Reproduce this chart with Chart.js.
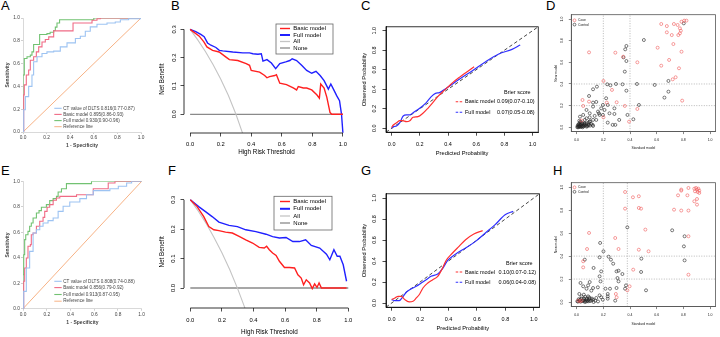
<!DOCTYPE html>
<html>
<head>
<meta charset="utf-8">
<script src="https://cdn.jsdelivr.net/npm/chart.js@4.4.0/dist/chart.umd.min.js"></script>
<style>
  html, body { margin: 0; padding: 0; background: #fff; }
  #fig { position: relative; width: 720px; height: 337px; overflow: hidden; background: #fff;
         font-family: "Liberation Sans", Arial, sans-serif; }
  #fig canvas { position: absolute; }
  .lab { position: absolute; font-size: 13px; line-height: 13px; color: #000; }
</style>
</head>
<body>
<div id="fig">
  <div class="lab" style="left:1px;top:-1px">A</div>
  <div class="lab" style="left:171px;top:-1px">B</div>
  <div class="lab" style="left:361px;top:-1px">C</div>
  <div class="lab" style="left:546px;top:-1px">D</div>
  <div class="lab" style="left:1px;top:164px">E</div>
  <div class="lab" style="left:168px;top:164px">F</div>
  <div class="lab" style="left:361px;top:164px">G</div>
  <div class="lab" style="left:553px;top:164px">H</div>
  <canvas id="pa"></canvas><canvas id="pb"></canvas><canvas id="pc"></canvas><canvas id="pd"></canvas>
  <canvas id="pe"></canvas><canvas id="pf"></canvas><canvas id="pg"></canvas><canvas id="ph"></canvas>
</div>
<script>
/* ---- tick values ---- */
const unitTicks = [0, 0.2, 0.4, 0.6, 0.8, 1.0];
const nbTicks = [0, 0.1, 0.2, 0.3];

/* ---- ROC curves (1 - specificity, sensitivity) ---- */
const rocLabels = ['CT value of DLTS', 'Basic model', 'Full model', 'Reference line'];
const aucA = ['0.816(0.77-0.87)', '0.895(0.86-0.93)', '0.930(0.90-0.96)', ''];
const aucE = ['0.808(0.74-0.88)', '0.856(0.79-0.92)', '0.913(0.87-0.95)', ''];
const refLine = [[0, 0], [1, 1]];

const rocA_ct = [[0,0],[0.006,0.195],[0.02,0.31],[0.048,0.4],[0.076,0.5],[0.09,0.616],[0.119,0.66],[0.161,0.689],
  [0.203,0.703],[0.26,0.709],[0.316,0.747],[0.373,0.782],[0.444,0.82],[0.486,0.84],[0.528,0.884],[0.57,0.922],
  [0.627,0.945],[0.712,0.956],[0.782,0.965],[0.825,0.985],[0.895,0.994],[1,1]];
const rocA_basic = [[0,0],[0.006,0.326],[0.011,0.413],[0.028,0.5],[0.048,0.544],[0.062,0.63],[0.09,0.66],[0.113,0.703],
  [0.133,0.747],[0.161,0.79],[0.189,0.811],[0.218,0.834],[0.246,0.834],[0.26,0.887],[0.387,0.887],[0.424,0.956],
  [0.556,0.956],[0.585,0.98],[0.627,0.994],[0.655,1],[1,1]];
const rocA_full = [[0,0],[0,0.5],[0.011,0.645],[0.034,0.66],[0.062,0.674],[0.076,0.703],[0.09,0.724],[0.09,0.767],
  [0.124,0.767],[0.141,0.855],[0.203,0.863],[0.23,0.875],[0.26,0.89],[0.274,0.92],[0.288,0.956],[0.31,0.985],
  [0.57,0.985],[0.6,1],[1,1]];

const rocE_ct = [[0,0],[0.006,0.136],[0.028,0.319],[0.056,0.45],[0.085,0.594],[0.113,0.62],[0.141,0.647],[0.169,0.673],
  [0.211,0.691],[0.254,0.712],[0.296,0.764],[0.338,0.804],[0.394,0.838],[0.479,0.864],[0.535,0.895],[0.592,0.927],
  [0.732,0.942],[0.803,0.961],[0.873,0.987],[0.915,1],[1,1]];
const rocE_basic = [[0,0],[0.006,0.215],[0.014,0.319],[0.028,0.398],[0.042,0.49],[0.062,0.503],[0.07,0.58],[0.085,0.594],
  [0.113,0.647],[0.141,0.686],[0.169,0.717],[0.183,0.764],[0.203,0.796],[0.225,0.817],[0.254,0.851],[0.282,0.869],
  [0.31,0.882],[0.423,0.882],[0.451,0.895],[0.535,0.895],[0.592,0.942],[0.704,0.942],[0.718,0.987],[0.775,1],[1,1]];
const rocE_full = [[0,0],[0,0.267],[0.006,0.424],[0.014,0.542],[0.023,0.58],[0.042,0.607],[0.056,0.647],[0.07,0.673],
  [0.085,0.712],[0.113,0.751],[0.135,0.77],[0.155,0.796],[0.197,0.817],[0.225,0.848],[0.254,0.864],[0.282,0.882],
  [0.296,0.916],[0.324,0.942],[0.366,0.982],[0.563,0.982],[0.577,1],[1,1]];

/* ---- decision curves (threshold, net benefit) ---- */
const dcaLabels = ['Basic model', 'Full model', 'All', 'None'];
const dcaNone = [[0, 0], [1, 0]];
const dcaB_basic = [[0,0.3],[0.06,0.276],[0.09,0.256],[0.11,0.238],[0.147,0.226],[0.19,0.22],[0.235,0.202],[0.257,0.193],
  [0.312,0.19],[0.367,0.179],[0.389,0.173],[0.4,0.155],[0.455,0.149],[0.488,0.137],[0.503,0.129],[0.52,0.133],
  [0.554,0.137],[0.565,0.14],[0.587,0.11],[0.631,0.105],[0.675,0.093],[0.697,0.086],[0.708,0.098],[0.741,0.093],
  [0.763,0.093],[0.796,0.086],[0.829,0.069],[0.846,0.057],[0.855,0.107],[0.877,0.093],[0.895,0.06],[0.916,0.006],
  [0.927,0],[1,0]];
const dcaB_full = [[0,0.3],[0.037,0.292],[0.07,0.282],[0.092,0.274],[0.114,0.252],[0.136,0.244],[0.169,0.236],[0.191,0.226],
  [0.213,0.224],[0.279,0.22],[0.345,0.217],[0.389,0.217],[0.411,0.214],[0.444,0.212],[0.466,0.214],[0.477,0.188],
  [0.503,0.193],[0.532,0.181],[0.56,0.161],[0.587,0.179],[0.626,0.185],[0.653,0.19],[0.668,0.196],[0.697,0.19],
  [0.73,0.173],[0.763,0.155],[0.796,0.145],[0.824,0.152],[0.851,0.137],[0.877,0.119],[0.905,0.089],[0.921,0.107],
  [0.938,0.089],[0.96,0.065],[0.978,0.048],[0.991,0],[1,-0.065]];
const dcaB_all = [[0,0.3],[0.05,0.263],[0.1,0.222],[0.15,0.176],[0.2,0.125],[0.25,0.067],[0.3,0],[0.35,-0.077]];

const dcaF_basic = [[0,0.3],[0.043,0.277],[0.085,0.243],[0.117,0.209],[0.149,0.198],[0.181,0.195],[0.223,0.19],[0.266,0.187],
  [0.309,0.176],[0.351,0.164],[0.394,0.153],[0.436,0.138],[0.468,0.136],[0.483,0.142],[0.5,0.13],[0.521,0.119],
  [0.543,0.111],[0.564,0.091],[0.596,0.07],[0.628,0.07],[0.66,0.068],[0.681,0.045],[0.702,0.034],[0.717,0.011],
  [0.734,0.028],[0.755,0.017],[0.772,-0.002],[0.787,0.014],[0.802,0.002],[0.815,0.017],[0.83,0],[0.989,0]];
const dcaF_full = [[0,0.3],[0.053,0.277],[0.096,0.26],[0.138,0.243],[0.181,0.224],[0.245,0.213],[0.298,0.209],[0.351,0.198],
  [0.415,0.192],[0.479,0.183],[0.521,0.175],[0.564,0.17],[0.606,0.172],[0.649,0.158],[0.691,0.158],[0.73,0.164],
  [0.766,0.145],[0.819,0.136],[0.862,0.115],[0.883,0.096],[0.909,0.13],[0.93,0.108],[0.947,0.108],[0.968,0.079],
  [0.989,0.023]];
const dcaF_all = [[0,0.3],[0.05,0.262],[0.1,0.22],[0.15,0.172],[0.2,0.12],[0.25,0.062],[0.3,-0.003],[0.34,-0.06],[0.36,-0.09]];

/* ---- calibration curves (predicted, observed) ---- */
const calLabels = ['Basic model', 'Full model'];
const brierC = ['0.09(0.07-0.10)', '0.07(0.05-0.08)'];
const brierG = ['0.10(0.07-0.12)', '0.06(0.04-0.08)'];
const idealLine = [[-0.04, -0.04], [1.04, 1.04]];
const calC_basic = [[0,0.01],[0.012,0.034],[0.035,0.058],[0.058,0.078],[0.077,0.078],[0.105,0.068],[0.129,0.078],
  [0.152,0.113],[0.187,0.119],[0.222,0.154],[0.257,0.205],[0.292,0.263],[0.327,0.324],[0.363,0.375],[0.398,0.42],
  [0.433,0.468],[0.48,0.522],[0.526,0.57],[0.585,0.631]];
const calC_full = [[0,0],[0.012,0.017],[0.035,0.024],[0.058,0.058],[0.082,0.126],[0.105,0.137],[0.129,0.137],[0.152,0.16],
  [0.199,0.205],[0.246,0.263],[0.281,0.324],[0.311,0.358],[0.339,0.365],[0.363,0.386],[0.398,0.42],[0.48,0.502],
  [0.573,0.59],[0.667,0.683],[0.76,0.761],[0.854,0.809],[0.912,0.853]];
const calG_basic = [[0,0.032],[0.023,0.048],[0.046,0.063],[0.069,0.063],[0.092,0.032],[0.123,0.01],[0.15,0.016],
  [0.173,0.048],[0.197,0.086],[0.22,0.143],[0.254,0.19],[0.289,0.222],[0.324,0.254],[0.358,0.333],[0.382,0.403],
  [0.428,0.476],[0.474,0.54],[0.52,0.603],[0.578,0.657],[0.64,0.689]];
const calG_full = [[0,0.032],[0.023,0.022],[0.053,0.022],[0.081,0.063],[0.104,0.105],[0.139,0.137],[0.173,0.159],
  [0.208,0.19],[0.243,0.222],[0.277,0.254],[0.324,0.276],[0.358,0.327],[0.393,0.403],[0.451,0.467],[0.52,0.524],
  [0.59,0.587],[0.659,0.667],[0.728,0.746],[0.798,0.841],[0.855,0.873]];

/* ---- reclassification scatter (standard model, new model) ---- */
const nriLabels = ['Case', 'Control'];
const cutD_x = [0.2, 0.4], cutD_y = [0.2, 0.4];
const cutH_x = [0.2, 0.38], cutH_y = [0.2, 0.4];
const nriD_case = [[0.634,0.954],[0.676,0.935],[0.729,0.954],[0.757,0.945],[0.774,0.914],[0.786,0.975],[0.806,0.985],
  [0.823,0.985],[0.781,0.892],[0.774,0.868],[0.762,0.852],[0.676,0.877],[0.713,0.852],[0.725,0.769],[0.607,0.735],
  [0.786,0.698],[0.093,0.692],[0.29,0.689],[0.349,0.652],[0.455,0.6],[0.693,0.622],[0.634,0.569],[0.767,0.545],
  [0.742,0.462],[0.72,0.443],[0.201,0.428],[0.265,0.345],[0.044,0.252],[0.093,0.237],[0.226,0.228],[0.3,0.231],
  [0.049,0.197],[0.361,0.197],[0.455,0.169],[0.791,0.246],[0.201,0.092],[0.393,0.052],[0.037,0.062]];
const nriD_control = [[0.803,0.96],[0.504,0.806],[0.373,0.751],[0.364,0.72],[0.351,0.646],[0.373,0.612],[0.361,0.514],
  [0.585,0.391],[0.688,0.428],[0.688,0.329],[0.658,0.274],[0.452,0.4],[0.295,0.4],[0.344,0.397],[0.373,0.338],
  [0.229,0.397],[0.253,0.388],[0.152,0.375],[0.123,0.351],[0.093,0.289],[0.123,0.228],[0.147,0.234],[0.221,0.268],
  [0.184,0.175],[0.16,0.145],[0.172,0.114],[0.209,0.16],[0.246,0.129],[0.283,0.175],[0.319,0.068],[0.29,0.022],
  [0.233,0.043],[0.123,0.012],[0.425,0.074],[0.467,0.206],[0.074,0.16],[0.098,0.129],[0.049,0.114],[0.025,0.098],
  [0.074,0.083],[0.123,0.068],[0.098,0.052],[0.037,0.037],[0.012,0.022],[0.02,0.006],[0.005,0],[0.049,0.012],
  [0.061,0.031],[0.086,0.018],[0.03,0.052],[0.061,0.068],[0.098,0.092],[0.135,0.105],[0.167,0.129],[0.197,0.114],
  [0.02,0.015],[0.034,0.006],[0.044,0],[0.074,0.006],[0.007,0.012],[0.015,0],[0.025,0.028],[0.147,0.068],[0.27,0.022],
  [0.381,0.114],[0.197,0.206],[0.233,0.206],[0.123,0.191],[0.283,0.123],[0.01,0.005],[0.02,0.01],[0.03,0.004],
  [0.04,0.012],[0.05,0.006],[0.06,0.015],[0.07,0.02],[0.08,0.01],[0.09,0.024],[0.1,0.015],[0.03,0.02],[0.015,0.03],
  [0.045,0.035],[0.06,0.04],[0.025,0.045],[0.11,0.03],[0.12,0.022],[0.035,0.028],[0.055,0.025],[0.075,0.035],
  [0.09,0.045],[0.1,0.055],[0.02,0.06]];
const nriH_case = [[0.784,0.98],[0.784,0.971],[0.838,0.994],[0.882,0.988],[0.895,0.994],[0.902,0.98],[0.912,0.988],
  [0.919,0.971],[0.907,0.959],[0.919,0.951],[0.887,0.965],[0.83,0.93],[0.76,0.93],[0.902,0.898],[0.882,0.878],
  [0.902,0.849],[0.73,0.805],[0.784,0.797],[0.838,0.797],[0.363,0.959],[0.422,0.913],[0.466,0.922],[0.363,0.814],
  [0.466,0.82],[0.483,0.814],[0.515,0.631],[0.093,0.602],[0.289,0.558],[0.078,0.462],[0.314,0.462],[0.466,0.456],
  [0.539,0.442],[0.838,0.573],[0.049,0.355],[0.049,0.302],[0.424,0.282],[0.838,0.238],[0.397,0.137],[0.38,0.102],
  [0.294,0.07],[0.3,0.041],[0.012,0.012],[0.025,0.006],[0.037,0.012]];
const nriH_control = [[0.716,0.625],[0.809,0.573],[0.804,0.485],[0.809,0.363],[0.38,0.651],[0.176,0.515],[0.201,0.442],
  [0.172,0.39],[0.24,0.395],[0.257,0.369],[0.274,0.334],[0.061,0.369],[0.127,0.297],[0.184,0.267],[0.299,0.267],
  [0.314,0.273],[0.343,0.244],[0.485,0.378],[0.483,0.262],[0.306,0.209],[0.314,0.18],[0.172,0.224],[0.179,0.18],
  [0.029,0.166],[0.098,0.174],[0.086,0.145],[0.049,0.137],[0.074,0.116],[0.123,0.122],[0.11,0.099],[0.159,0.128],
  [0.216,0.116],[0.25,0.116],[0.299,0.122],[0.37,0.145],[0.363,0.116],[0.52,0.102],[0.233,0.07],[0.233,0.049],
  [0.233,0.029],[0.172,0.058],[0.184,0.041],[0.147,0.035],[0.123,0.02],[0.127,0],[0.098,0.029],[0.074,0.02],
  [0.049,0.012],[0.025,0.02],[0.037,0.049],[0.02,0.07],[0.054,0.064],[0.086,0.049],[0.005,0.006],[0.061,0],
  [0.086,0.006],[0.196,0.02],[0.289,0.012],[0.01,0.004],[0.02,0.01],[0.03,0.003],[0.04,0.008],[0.05,0.015],
  [0.06,0.01],[0.07,0.004],[0.08,0.012],[0.09,0.018],[0.1,0.008],[0.11,0.014],[0.015,0.025],[0.035,0.03],
  [0.055,0.028],[0.075,0.032],[0.095,0.04],[0.065,0.045],[0.115,0.03],[0.14,0.012],[0.16,0.005]];

/* ---- helpers ---- */
const FONT = '"Liberation Sans", Arial, Helvetica, sans-serif';
const pts = arr => arr.map(([x, y]) => ({ x, y }));

function scaleCfg(o) {
  return {
    type: 'linear', position: o.pos, min: o.min, max: o.max,
    afterBuildTicks: s => { s.ticks = o.ticks.map(v => ({ value: v })); },
    afterFit: s => { if (o.pos === 'bottom') s.height = o.fit; else s.width = o.fit; },
    grid: { drawOnChartArea: false, drawTicks: true, tickLength: o.tickLen, color: o.tickColor || '#000', lineWidth: 0.7 },
    border: { display: !!o.border, color: o.borderColor || '#000', width: 0.8 },
    ticks: {
      autoSkip: false, color: o.color || '#000', padding: o.tickPad,
      font: { family: FONT, size: o.fontSize, lineHeight: 1.2 },
      minRotation: o.rot || 0, maxRotation: o.rot || 0,
      crossAlign: o.rot ? 'center' : 'near',
      callback: v => v.toFixed(1)
    },
    title: {
      display: true, text: o.title, color: o.color || '#000',
      font: { family: FONT, size: o.titleSize, weight: o.bold ? 'bold' : 'normal', lineHeight: 1.2 },
      padding: { top: o.titleOff - o.titleSize * 0.6, bottom: o.titleOff - o.titleSize * 0.6 }
    }
  };
}

function line(label, data, color, width, more) {
  return Object.assign({ label, data: pts(data), showLine: true, borderColor: color, backgroundColor: color,
    borderWidth: width, pointRadius: 0, fill: false }, more || {});
}

/* box round the plot region */
const frame = {
  id: 'frame',
  afterDraw(chart, args, o) {
    if (!o.on) return;
    const { ctx, chartArea: a } = chart;
    ctx.save();
    ctx.strokeStyle = o.color; ctx.lineWidth = 0.8;
    ctx.strokeRect(a.left, a.top, a.right - a.left, a.bottom - a.top);
    ctx.restore();
  }
};

/* R style axis lines, first tick to last tick */
const rAxis = {
  id: 'rAxis',
  afterDraw(chart, args, o) {
    if (!o.on) return;
    const { ctx, chartArea: a, scales: { x, y } } = chart;
    ctx.save();
    ctx.strokeStyle = '#000'; ctx.lineWidth = 0.8;
    ctx.beginPath();
    ctx.moveTo(x.getPixelForValue(x.ticks[0].value), a.bottom);
    ctx.lineTo(x.getPixelForValue(x.ticks[x.ticks.length - 1].value), a.bottom);
    ctx.moveTo(a.left, y.getPixelForValue(y.ticks[0].value));
    ctx.lineTo(a.left, y.getPixelForValue(y.ticks[y.ticks.length - 1].value));
    ctx.stroke();
    ctx.restore();
  }
};

/* legend drawn from the datasets */
const key = {
  id: 'key',
  afterDraw(chart, args, o) {
    if (!o.ys) return;
    const ctx = chart.ctx, ox = o.origin[0], oy = o.origin[1];
    ctx.save();
    if (o.box) {
      ctx.strokeStyle = '#666'; ctx.lineWidth = 0.8;
      ctx.strokeRect(o.box[0] - ox, o.box[1] - oy, o.box[2], o.box[3]);
    }
    ctx.font = o.size + 'px ' + FONT;
    ctx.textBaseline = 'middle'; ctx.textAlign = 'left';
    ctx.fillStyle = o.textColor || '#000';
    if (o.head) ctx.fillText(o.head.text, o.head.x - ox, o.head.y - oy);
    o.ys.forEach((yy, i) => {
      const ds = chart.data.datasets[i];
      const py = yy - oy;
      ctx.strokeStyle = ds.borderColor;
      if (o.mark === 'circle') {
        ctx.lineWidth = 0.6;
        ctx.beginPath(); ctx.arc(o.markX - ox, py, 1.4, 0, Math.PI * 2); ctx.stroke();
      } else {
        ctx.lineWidth = o.lws ? o.lws[i] : ds.borderWidth;
        ctx.setLineDash(o.dash || []);
        ctx.beginPath(); ctx.moveTo(o.line[0] - ox, py); ctx.lineTo(o.line[1] - ox, py); ctx.stroke();
        ctx.setLineDash([]);
      }
      ctx.fillStyle = o.textColor || '#000';
      let txt = ds.label;
      if (o.extra && !o.valX && o.extra[i]) txt += ' ' + o.extra[i];
      ctx.fillText(txt, o.textX - ox, py);
      if (o.extra && o.valX) ctx.fillText(o.extra[i], o.valX - ox, py);
    });
    ctx.restore();
  }
};

/* rect = canvas [x, y, w, h]; area = plot [left, top, right, bottom], page pixels */
function panel(id, rect, area, xs, ys, datasets, opts) {
  const cv = document.getElementById(id);
  cv.width = rect[2]; cv.height = rect[3];
  cv.style.left = rect[0] + 'px'; cv.style.top = rect[1] + 'px';
  xs.pos = 'bottom'; xs.fit = rect[1] + rect[3] - area[3];
  ys.pos = 'left'; ys.fit = area[0] - rect[0];
  if (opts.key) opts.key.origin = [rect[0], rect[1]];
  return new Chart(cv, {
    type: 'scatter',
    data: { datasets },
    options: {
      responsive: false, animation: false, events: [],
      layout: { padding: { left: 0, bottom: 0, top: area[1] - rect[1], right: rect[0] + rect[2] - area[2] } },
      scales: { x: scaleCfg(xs), y: scaleCfg(ys) },
      plugins: Object.assign({ legend: { display: false }, tooltip: { enabled: false } }, opts)
    },
    plugins: [frame, rAxis, key]
  });
}

/* ---- A / E : ROC ---- */
const rocColors = ['#9dc3f2', '#f06b85', '#72c272', '#f7b285'];
function rocPanel(id, rect, area, curves, auc, ys, xTitleOff, xPad) {
  const ds = curves.map((c, i) => line(rocLabels[i], c, rocColors[i], 1.1, { stepped: 'before' }));
  ds.push(line(rocLabels[3], refLine, rocColors[3], 1));
  panel(id, rect, area,
    { min: 0, max: 1, ticks: unitTicks, fontSize: 4.8, color: '#444', tickLen: 2, tickPad: xPad, tickColor: '#bbb',
      border: true, borderColor: '#cfcfcf', title: '1 - Specificity', bold: true, titleSize: 5, titleOff: xTitleOff },
    { min: 0, max: 1, ticks: unitTicks, fontSize: 4.8, color: '#444', tickLen: 2, tickPad: 1, tickColor: '#bbb',
      border: true, borderColor: '#cfcfcf', title: 'Sensitivity', bold: true, titleSize: 5, titleOff: 8 },
    ds,
    { key: { ys, line: [54.3, 61.7], textX: 63.3, size: 4.6, textColor: '#444', extra: auc } });
}
rocPanel('pa', [0, 6, 152, 148], [23, 18, 141, 132], [rocA_ct, rocA_basic, rocA_full], aucA,
  [108.3, 114.4, 120.6, 126.7], 8, 0.4);
rocPanel('pe', [0, 170, 152, 167], [23, 181.3, 141.7, 308.7], [rocE_ct, rocE_basic, rocE_full], aucE,
  [281.3, 287.6, 294.5, 301.2], 14, 0.6);

/* ---- B / F : decision curves ---- */
function dcaPanel(id, rect, area, basic, full, all, ymin, xPad, xTitleOff, yPad, box, ys) {
  const ds = [
    line(dcaLabels[0], basic, '#ff2020', 1.4),
    line(dcaLabels[1], full, '#2020ff', 1.4),
    line(dcaLabels[2], all, '#c4c4c4', 1.1),
    line(dcaLabels[3], dcaNone, '#8a8a8a', 1.3)
  ];
  panel(id, rect, area,
    { min: -0.04, max: 1.04, ticks: unitTicks, fontSize: 5.8, tickLen: 3.5, tickPad: xPad,
      title: 'High Risk Threshold', titleSize: 6.3, titleOff: xTitleOff },
    { min: ymin, max: 0.314, ticks: nbTicks, fontSize: 5.8, tickLen: 3.5, tickPad: yPad, rot: 90,
      title: 'Net Benefit', titleSize: 6.3, titleOff: 7 },
    ds,
    { rAxis: { on: true },
      key: { box, ys, line: [280, 290], textX: 293.3, size: 6, lws: [1.4, 2, 1.3, 1.3] } });
}
dcaPanel('pb', [155, 10, 200, 150], [184, 25.4, 349, 133], dcaB_basic, dcaB_full, dcaB_all, -0.066,
  4, 7.3, 2.5, [276, 24, 57, 30], [28.5, 35, 41.5, 48]);
dcaPanel('pf', [155, 180, 205, 157], [184, 195.7, 354.6, 308], dcaF_basic, dcaF_full, dcaF_all, -0.068,
  5.8, 4.9, 3, [274, 196.3, 58, 33.7], [201.5, 208.8, 216, 223]);

/* ---- C / G : calibration ---- */
function calPanel(id, rect, area, basic, full, brier, xPad, xTitleOff, head, ys, valX) {
  const ds = [
    line(calLabels[0], basic, '#ff3030', 1.2, { cubicInterpolationMode: 'monotone' }),
    line(calLabels[1], full, '#3030ff', 1.2, { cubicInterpolationMode: 'monotone' }),
    line('ideal', idealLine, '#333', 0.9, { borderDash: [3.5, 2.5] })
  ];
  panel(id, rect, area,
    { min: -0.04, max: 1.04, ticks: unitTicks, fontSize: 5.5, tickLen: 3.5, tickPad: xPad, border: true,
      title: 'Predicted Probability', titleSize: 5.75, titleOff: xTitleOff },
    { min: -0.04, max: 1.04, ticks: unitTicks, fontSize: 5.5, tickLen: 3.5, tickPad: 4.6, rot: 90, border: true,
      title: 'Observed Probability', titleSize: 5.75, titleOff: 6 },
    ds,
    { frame: { on: true, color: '#000' },
      key: { head: { text: 'Brier score', x: head[0], y: head[1] }, ys, line: [455.7, 463.3], dash: [2.5, 1.5],
             lws: [1.1, 1.1], textX: 465, valX, size: 5.5, extra: brier } });
}
calPanel('pc', [358, 12, 184, 148], [386, 26.8, 540, 132.2], calC_basic, calC_full, brierC, 5.5, 7,
  [504, 92.3], [101.7, 112.3], 497);
calPanel('pg', [358, 182, 185, 155], [386, 193.8, 541.5, 307.2], calG_basic, calG_full, brierG, 5.3, 8.3,
  [506, 263.7], [272, 282.3], 498.5);

/* ---- D / H : reclassification ---- */
function nriPanel(id, rect, area, cases, controls, cutX, cutY, xPad, xTitleOff, ys) {
  const dot = { borderColor: '#9a9a9a', borderWidth: 0.7, borderDash: [1, 1.5], pointRadius: 0, showLine: true };
  const ds = [
    { label: nriLabels[0], data: pts(cases), pointRadius: 1.5, pointBorderWidth: 0.6, borderColor: '#f05a5a',
      pointBorderColor: '#f05a5a', pointBackgroundColor: 'rgba(0,0,0,0)' },
    { label: nriLabels[1], data: pts(controls), pointRadius: 1.5, pointBorderWidth: 0.6, borderColor: '#222',
      pointBorderColor: '#222', pointBackgroundColor: 'rgba(0,0,0,0)' }
  ];
  cutX.forEach(v => ds.push(Object.assign({ label: 'cut', data: pts([[v, -0.04], [v, 1.04]]) }, dot)));
  cutY.forEach(v => ds.push(Object.assign({ label: 'cut', data: pts([[-0.04, v], [1.04, v]]) }, dot)));
  panel(id, rect, area,
    { min: -0.04, max: 1.04, ticks: unitTicks, fontSize: 3.5, tickLen: 2.5, tickPad: xPad, border: true,
      borderColor: '#555', tickColor: '#555', color: '#222', title: 'Standard model', titleSize: 3.4, titleOff: xTitleOff },
    { min: -0.04, max: 1.04, ticks: unitTicks, fontSize: 3.5, tickLen: 2.5, tickPad: 4.6, rot: 90, border: true,
      borderColor: '#555', tickColor: '#555', color: '#222', title: 'New model', titleSize: 3.4, titleOff: 10.7 },
    ds,
    { frame: { on: true, color: '#555' },
      key: { ys, mark: 'circle', markX: 574.5, textX: 578, size: 3.4, textColor: '#222' } });
}
nriPanel('pd', [545, 2, 175, 158], [571.3, 14.7, 717.7, 131.6], nriD_case, nriD_control, cutD_x, cutD_y,
  4.1, 12, [20.3, 24.6]);
nriPanel('ph', [545, 170, 175, 167], [571.3, 182.7, 718.1, 306.6], nriH_case, nriH_control, cutH_x, cutH_y,
  3.9, 13.3, [187.3, 191.8]);
</script>
</body>
</html>
